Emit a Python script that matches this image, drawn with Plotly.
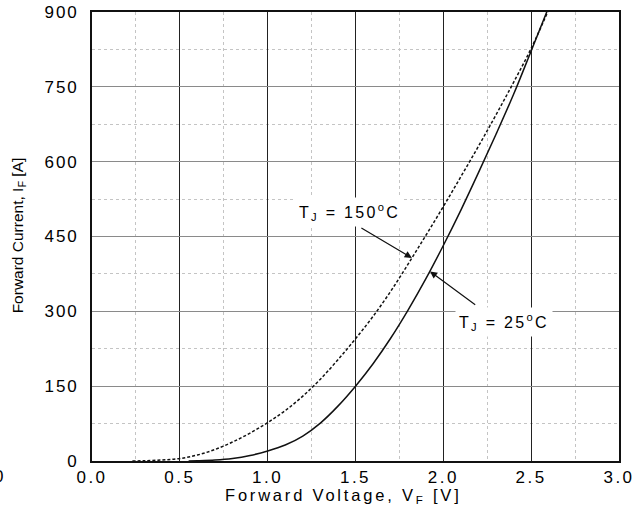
import plotly.graph_objects as go

# Forward characteristic, T_J = 25 °C
v_25 = [0.55, 0.6, 0.7, 0.8, 0.9, 1.0, 1.1, 1.2, 1.3, 1.4, 1.5, 1.6, 1.7,
        1.8, 1.9, 2.0, 2.1, 2.2, 2.3, 2.4, 2.5, 2.6]
i_25 = [0, 0.4, 1.8, 5, 11, 20, 32, 50, 76, 110, 150, 195, 246,
        303, 365, 432, 503, 578, 655, 735, 822, 910]

# Forward characteristic, T_J = 150 °C
v_150 = [0.23, 0.3, 0.4, 0.5, 0.6, 0.7, 0.8, 0.9, 1.0, 1.1, 1.2, 1.3, 1.4,
         1.5, 1.6, 1.7, 1.8, 1.9, 2.0, 2.1, 2.2, 2.3, 2.4, 2.5, 2.6]
i_150 = [0, 0.5, 2, 5, 12, 23, 38, 56, 77, 101, 130, 164, 203,
         245, 290, 340, 395, 452, 510, 570, 631, 694, 759, 827, 905]

x_ticks = [0.0, 0.5, 1.0, 1.5, 2.0, 2.5, 3.0]
x_tick_text = ["0.0", "0.5", "1.0", "1.5", "2.0", "2.5", "3.0"]
y_ticks = [0, 150, 300, 450, 600, 750, 900]
y_tick_text = ["0", "150", "300", "450", "600", "750", "900"]

FONT = "Liberation Sans, Arial, sans-serif"
INK = "#000"


def spaced(s, px):
    """Wrap text in a span with extra letter spacing."""
    return f'<span style="letter-spacing:{px}px">{s}</span>'


fig = go.Figure()
fig.add_trace(go.Scatter(x=v_150, y=i_150, mode="lines",
                         line=dict(color="#111", width=1.5, dash="3px,2px"),
                         line_shape="spline", showlegend=False))
fig.add_trace(go.Scatter(x=v_25, y=i_25, mode="lines",
                         line=dict(color="#111", width=1.5),
                         line_shape="spline", showlegend=False))

label_font = dict(family=FONT, size=16, color=INK)

# curve labels with white boxes, and their pointer arrows
fig.add_annotation(x=1.468, y=499, xref="x", yref="y",
                   text=spaced("T<sub>J</sub> = 150<sup>o</sup>C", 2.3),
                   showarrow=False, font=label_font, bgcolor="white",
                   borderpad=3)
fig.add_annotation(x=1.821, y=407, ax=1.525, ay=469, xref="x", yref="y",
                   axref="x", ayref="y", text="", showarrow=True,
                   arrowhead=2, arrowsize=1.2, arrowwidth=1.2, arrowcolor="#111")
fig.add_annotation(x=2.345, y=279, xref="x", yref="y",
                   text=spaced("T<sub>J</sub> = 25<sup>o</sup>C", 2.3),
                   showarrow=False, font=label_font, bgcolor="white",
                   borderpad=3)
fig.add_annotation(x=1.924, y=380, ax=2.19, ay=311, xref="x", yref="y",
                   axref="x", ayref="y", text="", showarrow=True,
                   arrowhead=2, arrowsize=1.2, arrowwidth=1.2, arrowcolor="#111")

# axis titles
fig.add_annotation(x=0.477, y=-0.078, xref="paper", yref="paper",
                   text=spaced("Forward Voltage, V<sub>F</sub> [V]", 2.8),
                   showarrow=False,
                   font=dict(family=FONT, size=16.5, color=INK),
                   xanchor="center", yanchor="middle")
fig.add_annotation(x=-0.140, y=0.503, xref="paper", yref="paper",
                   text="Forward Current, I<sub>F</sub> [A]", showarrow=False,
                   textangle=-90,
                   font=dict(family=FONT, size=15.5, color=INK),
                   xanchor="center", yanchor="middle")
fig.add_annotation(x=-0.166, y=-0.034, xref="paper", yref="paper",
                   text="0", showarrow=False,
                   font=dict(family=FONT, size=17, color=INK),
                   xanchor="right", yanchor="middle")

tick_font = dict(family=FONT, size=17, color=INK)
fig.update_xaxes(range=[0, 3], tickvals=x_ticks,
                 ticktext=[spaced(t, 2.5) for t in x_tick_text],
                 showgrid=True, gridcolor="#222", gridwidth=1,
                 minor=dict(dtick=0.25, tick0=0, showgrid=True,
                            gridcolor="#c4c4c4", griddash="dot", gridwidth=1),
                 showline=True, linecolor="#111", linewidth=1.6, mirror=True,
                 zeroline=False, ticks="", ticklabelstandoff=0,
                 automargin=False, tickfont=tick_font)
fig.update_yaxes(range=[0, 900], tickvals=y_ticks,
                 ticktext=[spaced(t, 2) for t in y_tick_text],
                 showgrid=True, gridcolor="#8a8a8a", gridwidth=1.2,
                 minor=dict(dtick=75, tick0=0, showgrid=True,
                            gridcolor="#c4c4c4", griddash="dot", gridwidth=1),
                 showline=True, linecolor="#111", linewidth=1.6, mirror=True,
                 zeroline=False, ticks="", ticklabelstandoff=8,
                 automargin=False, tickfont=tick_font)

fig.update_layout(width=644, height=508,
                  margin=dict(l=92, r=25, t=12, b=47, autoexpand=False),
                  paper_bgcolor="white", plot_bgcolor="white",
                  showlegend=False)

fig.write_html("out.html")
